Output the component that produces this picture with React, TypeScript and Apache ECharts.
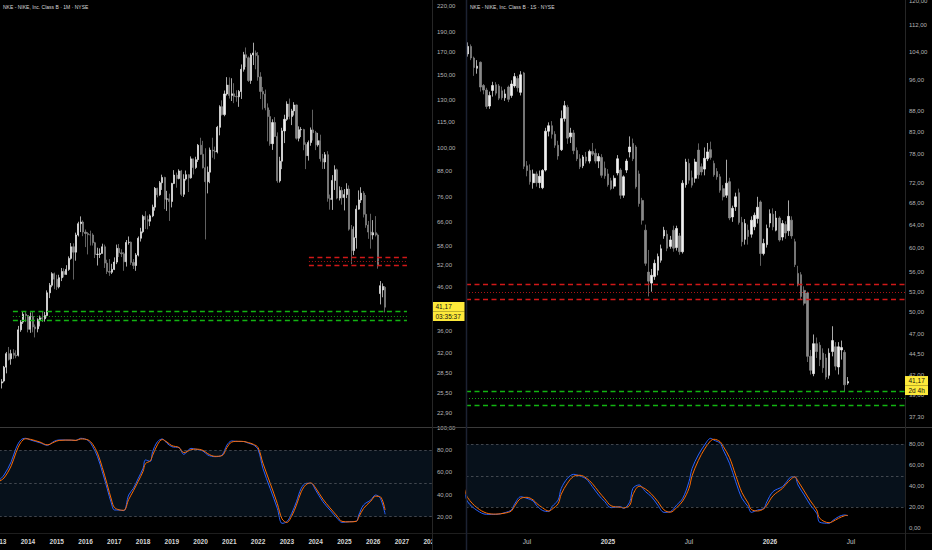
import React, { useEffect, useRef } from "react";
import * as echarts from "echarts";

// ---------------- texts ----------------
const leftTitle = "NKE - NIKE, Inc. Class B · 1M · NYSE";
const rightTitle = "NKE - NIKE, Inc. Class B · 1S · NYSE";
const lastPrice = 41.17;
const leftCountdown = "03:35:37";
const rightCountdown = "2d 4h";

// ---------------- monthly candles (from Jan 2013): [open, high, low, close] ----------------
const monthlyOHLC: number[][] = [
  [25.9, 27.9, 25.7, 27.0], [27.0, 27.6, 26.2, 27.2], [27.3, 29.7, 27.1, 29.5], [29.5, 32.1, 28.5, 31.8],
  [31.8, 33.0, 30.6, 30.8], [30.9, 32.5, 29.9, 31.8], [31.9, 32.6, 30.9, 31.5], [31.5, 32.4, 31.0, 31.4],
  [31.5, 37.1, 31.3, 36.3], [36.3, 38.3, 35.9, 37.9], [37.9, 40.3, 37.5, 39.6], [39.6, 40.3, 37.9, 39.3],
  [39.3, 39.4, 35.8, 36.4], [36.4, 40.0, 35.7, 39.1], [39.1, 40.3, 35.8, 36.9], [36.9, 37.4, 34.8, 36.5],
  [36.5, 38.7, 35.8, 38.4], [38.4, 39.3, 37.0, 38.8], [38.8, 40.1, 37.9, 38.6], [38.6, 40.1, 38.0, 39.3],
  [39.3, 45.2, 38.9, 44.6], [44.6, 47.1, 43.3, 46.5], [46.5, 50.0, 46.0, 49.6], [49.6, 49.9, 45.5, 48.1],
  [48.1, 49.3, 45.3, 46.1], [46.1, 49.3, 45.7, 48.5], [48.5, 51.2, 47.6, 50.2], [50.2, 51.1, 48.6, 49.4],
  [49.4, 52.0, 49.3, 50.8], [50.8, 54.6, 50.4, 54.0], [54.0, 58.8, 53.6, 57.6], [57.6, 58.7, 48.0, 55.9],
  [55.9, 62.3, 53.3, 61.5], [61.5, 66.2, 61.0, 65.5], [65.5, 68.2, 62.5, 66.1], [66.1, 66.7, 61.1, 62.5],
  [62.5, 63.4, 57.5, 62.0], [62.0, 62.5, 55.2, 61.6], [61.6, 63.0, 58.0, 61.5], [61.5, 62.1, 58.0, 58.9],
  [58.9, 59.2, 54.1, 55.2], [55.2, 57.3, 51.9, 55.25], [55.2, 57.1, 54.1, 55.5], [55.5, 58.6, 55.5, 57.6],
  [57.6, 58.3, 51.2, 52.6], [52.6, 53.6, 49.5, 50.2], [50.2, 53.8, 49.0, 50.0], [50.0, 52.4, 49.5, 50.8],
  [50.8, 54.3, 50.6, 52.9], [52.9, 58.3, 52.3, 57.1], [57.1, 58.5, 54.4, 55.7], [55.7, 56.8, 54.4, 55.4],
  [55.4, 55.9, 50.4, 53.0], [53.0, 59.8, 51.6, 59.0], [59.0, 61.0, 58.3, 59.1], [59.1, 59.3, 52.1, 52.8],
  [52.8, 53.8, 50.9, 51.9], [51.9, 55.6, 50.4, 55.0], [55.0, 61.0, 54.6, 60.4], [60.4, 64.0, 59.3, 62.6],
  [62.6, 68.8, 62.1, 68.2], [68.2, 70.2, 63.6, 67.0], [67.0, 68.5, 63.5, 66.4], [66.4, 69.0, 64.6, 68.4],
  [68.4, 72.8, 67.9, 71.8], [71.8, 80.3, 70.4, 79.7], [79.7, 80.0, 75.8, 76.9], [76.9, 83.0, 76.5, 82.2],
  [82.2, 86.0, 79.0, 84.7], [84.7, 85.0, 71.0, 75.0], [75.0, 78.6, 70.3, 75.2], [75.2, 77.4, 66.5, 74.1],
  [74.1, 82.2, 71.7, 81.9], [81.9, 88.2, 81.6, 85.8], [85.8, 87.0, 80.0, 84.2], [84.2, 88.6, 83.8, 87.8],
  [87.8, 88.3, 76.4, 77.1], [77.1, 86.2, 76.0, 83.9], [83.9, 88.0, 83.2, 86.0], [86.0, 86.2, 78.1, 84.5],
  [84.5, 95.2, 84.1, 93.9], [93.9, 94.0, 86.1, 89.5], [89.5, 95.0, 88.8, 93.5], [93.5, 102.0, 92.3, 101.3],
  [101.3, 105.6, 96.0, 96.3], [96.3, 103.8, 89.0, 89.4], [89.4, 99.6, 60.0, 82.7], [82.7, 90.0, 77.5, 87.2],
  [87.2, 100.0, 82.0, 98.6], [98.6, 105.6, 94.5, 98.1], [98.1, 100.5, 93.7, 97.6], [97.6, 112.8, 96.8, 111.9],
  [111.9, 126.5, 107.0, 125.5], [125.5, 130.0, 119.5, 120.1], [120.1, 137.3, 119.0, 134.7], [134.7, 147.9, 133.5, 141.5],
  [141.5, 147.7, 131.3, 133.6], [133.6, 147.0, 129.5, 134.8], [134.8, 143.0, 128.0, 132.9], [132.9, 137.5, 129.0, 132.6],
  [132.6, 137.7, 125.4, 136.5], [136.5, 158.7, 131.0, 154.5], [154.5, 170.2, 152.5, 167.5], [167.5, 174.4, 156.5, 164.7],
  [164.7, 166.0, 144.0, 145.2], [145.2, 168.9, 142.5, 167.3], [167.3, 179.1, 158.2, 169.2], [169.2, 171.5, 154.5, 166.7],
  [166.7, 170.1, 145.0, 148.1], [148.1, 152.0, 131.0, 136.6], [136.6, 140.0, 123.5, 134.6], [134.6, 138.0, 123.0, 124.7],
  [124.7, 127.8, 103.5, 118.8], [118.8, 123.3, 101.0, 102.2], [102.2, 117.0, 98.7, 114.9], [114.9, 118.4, 106.0, 106.4],
  [106.4, 108.8, 82.2, 83.1], [83.1, 95.0, 82.3, 92.7], [92.7, 111.6, 88.7, 109.7], [109.7, 120.0, 102.5, 117.0],
  [117.0, 129.3, 116.0, 127.3], [127.3, 131.3, 117.0, 118.8], [118.8, 124.0, 113.3, 122.6], [122.6, 128.7, 119.5, 126.7],
  [126.7, 127.0, 104.5, 105.3], [105.3, 112.5, 103.5, 110.4], [110.4, 112.0, 106.0, 110.5], [110.5, 111.0, 98.5, 101.7],
  [101.7, 102.9, 88.7, 95.6], [95.6, 104.0, 93.0, 102.8], [102.8, 111.8, 101.0, 110.3], [110.3, 123.4, 104.0, 108.6],
  [108.6, 109.7, 98.6, 101.5], [101.5, 108.5, 100.5, 103.9], [103.9, 107.4, 92.5, 94.0], [94.0, 96.5, 88.8, 92.3],
  [92.3, 97.5, 88.8, 96.1], [96.1, 98.0, 74.0, 75.4], [75.4, 77.0, 70.8, 74.9], [74.9, 85.8, 70.7, 83.3],
  [83.3, 90.6, 79.0, 88.4], [88.4, 89.0, 75.0, 75.5], [75.5, 80.6, 74.5, 78.8], [78.8, 80.3, 72.8, 75.7],
  [75.7, 79.4, 70.5, 77.0], [77.0, 82.0, 75.5, 79.4], [79.4, 81.0, 63.0, 63.5], [63.5, 65.0, 52.3, 56.4],
  [56.4, 64.5, 55.0, 60.6], [60.6, 72.5, 57.0, 71.0], [71.0, 78.8, 70.8, 74.7], [74.7, 80.2, 73.5, 77.6],
  [77.6, 78.5, 67.8, 69.0], [69.0, 76.8, 64.0, 65.0], [65.0, 66.5, 60.2, 62.5], [62.5, 69.2, 57.0, 61.5],
  [61.5, 66.8, 60.0, 62.3], [62.3, 68.3, 61.0, 61.5], [61.5, 62.0, 51.0, 51.8], [44.4, 47.6, 41.8, 46.4],
  [45.3, 47.0, 43.5, 46.2], [46.0, 46.3, 40.0, 41.17],
];

// ---------------- weekly candles (from week of 19 Feb 2024): [open, high, low, close] ----------------
const weeklyOHLC: number[][] = [
  [103.4, 106.8, 102.6, 105.6], [105.6, 106.2, 101.6, 102.2], [102.2, 102.6, 97.2, 99.5], [99.3, 101.6, 97.8, 99.9],
  [101.0, 101.2, 93.0, 94.2], [94.6, 95.0, 92.3, 93.4], [93.4, 94.0, 88.6, 89.2], [89.3, 93.0, 88.6, 92.0],
  [93.3, 95.6, 91.7, 94.6], [94.8, 95.5, 92.0, 92.6], [94.5, 95.0, 90.8, 91.3], [93.2, 94.3, 90.9, 91.4],
  [91.4, 93.6, 90.6, 92.4], [94.2, 94.6, 90.3, 91.0], [92.0, 96.0, 91.4, 95.0], [94.5, 98.0, 94.0, 97.0],
  [96.5, 97.2, 93.0, 94.0], [92.8, 98.5, 92.0, 97.5], [98.0, 98.3, 74.8, 75.4], [75.5, 76.5, 73.3, 74.5],
  [74.5, 75.8, 71.6, 72.2], [72.0, 74.7, 70.8, 73.8], [73.8, 74.3, 71.2, 72.0], [72.0, 74.5, 70.9, 73.3],
  [71.0, 74.8, 70.7, 74.5], [74.6, 84.0, 74.3, 83.2], [83.2, 85.3, 82.0, 84.5], [84.5, 85.6, 81.5, 82.5],
  [82.5, 83.2, 79.4, 80.0], [80.0, 81.0, 76.8, 77.6], [79.0, 88.2, 78.7, 86.2], [86.2, 90.6, 85.5, 89.4],
  [89.0, 89.6, 80.3, 81.6], [81.9, 84.0, 80.5, 82.8], [82.8, 83.5, 78.0, 78.8], [78.8, 79.5, 76.5, 77.0],
  [77.0, 78.0, 74.8, 75.3], [75.5, 77.8, 75.0, 77.4], [77.4, 78.5, 76.0, 76.5], [76.5, 79.0, 76.0, 78.6],
  [78.6, 80.5, 77.6, 78.0], [78.2, 79.2, 76.0, 76.5], [76.5, 78.2, 75.0, 77.5], [77.3, 78.0, 73.0, 73.5],
  [75.0, 76.4, 72.8, 73.4], [73.8, 74.8, 71.2, 71.6], [72.4, 73.0, 70.5, 70.8], [71.3, 73.5, 70.8, 72.9],
  [74.0, 77.8, 73.5, 77.0], [74.6, 75.0, 68.8, 69.5], [69.5, 73.5, 69.0, 73.2], [74.6, 77.0, 74.0, 76.5],
  [78.5, 82.0, 77.3, 79.6], [80.4, 81.5, 76.5, 77.0], [79.6, 80.0, 70.8, 71.2], [73.8, 74.5, 67.3, 67.9],
  [68.5, 69.0, 64.0, 64.8], [63.0, 64.0, 57.0, 57.4], [56.0, 59.6, 52.3, 54.6], [54.3, 56.5, 53.0, 55.5],
  [55.3, 58.0, 54.8, 57.4], [56.3, 59.0, 55.5, 58.5], [57.9, 60.5, 57.5, 59.8], [62.0, 63.6, 61.5, 63.0],
  [62.3, 63.0, 59.4, 59.9], [60.2, 62.0, 59.8, 61.3], [63.0, 63.8, 59.3, 59.9], [60.0, 63.8, 59.5, 63.3],
  [62.0, 62.5, 58.8, 59.3], [59.3, 72.5, 59.0, 71.9], [71.6, 77.0, 71.0, 76.3], [76.0, 77.0, 71.8, 72.5],
  [73.0, 74.5, 71.0, 71.5], [72.9, 77.0, 72.0, 76.3], [78.9, 80.4, 72.8, 73.6], [75.3, 76.0, 73.5, 74.2],
  [74.8, 79.5, 73.5, 77.1], [77.0, 80.5, 76.5, 78.5], [79.0, 80.8, 76.8, 77.3], [76.0, 76.6, 73.2, 73.6],
  [74.3, 75.0, 72.6, 73.2], [73.2, 73.8, 70.0, 70.5], [70.8, 71.5, 68.5, 69.2], [69.5, 76.8, 69.0, 71.9],
  [72.2, 73.0, 64.8, 65.2], [65.4, 67.5, 64.5, 67.0], [67.3, 70.0, 66.5, 69.2], [70.0, 70.8, 64.0, 64.4],
  [64.4, 65.4, 60.2, 61.0], [61.4, 65.0, 60.5, 64.2], [63.0, 64.0, 60.5, 61.9], [62.3, 65.5, 61.7, 64.8],
  [63.6, 66.2, 63.0, 65.7], [65.1, 69.2, 64.2, 67.2], [68.2, 68.5, 57.0, 59.0], [59.0, 61.5, 58.7, 60.7],
  [60.5, 64.0, 60.0, 63.3], [64.3, 66.8, 63.5, 66.0], [65.9, 67.0, 63.0, 63.6], [63.0, 66.5, 62.8, 65.2],
  [65.2, 65.5, 61.0, 61.3], [61.8, 64.8, 61.2, 64.2], [64.0, 64.6, 61.5, 62.5], [62.9, 68.5, 62.0, 65.5],
  [64.8, 65.5, 61.5, 62.0], [61.0, 61.5, 56.8, 57.2], [55.8, 57.0, 53.8, 54.0], [55.6, 56.0, 51.8, 52.3],
  [53.2, 53.8, 51.0, 51.3], [52.8, 53.0, 43.5, 44.2], [44.2, 45.0, 42.0, 42.5], [42.1, 47.0, 41.8, 45.8],
  [45.8, 46.6, 44.0, 44.8], [45.6, 46.0, 43.0, 43.8], [44.6, 45.2, 42.2, 42.8], [44.0, 44.5, 41.4, 41.7],
  [41.9, 45.2, 41.5, 44.6], [44.8, 48.1, 44.2, 46.2], [45.4, 46.0, 42.5, 43.0], [42.9, 46.0, 42.0, 45.4],
  [45.0, 46.2, 43.8, 45.3], [44.7, 45.0, 40.0, 40.8], [41.0, 41.7, 40.8, 41.17],
];

// ---------------- axes ticks ----------------
const leftYearTicks = [0, 12, 24, 36, 48, 60, 72, 84, 96, 108, 120, 132, 144, 156, 168, 180];
const leftYearLabels = ["2013", "2014", "2015", "2016", "2017", "2018", "2019", "2020", "2021", "2022", "2023", "2024", "2025", "2026", "2027", "2028"];
const rightTimeTicks = [19, 45, 71, 97, 123];
const rightTimeLabels = ["Jul", "2025", "Jul", "2026", "Jul"];
const leftPriceTicks = [22.9, 25.5, 28.5, 32, 36, 46, 52, 58, 66, 76, 88, 100, 115, 130, 150, 170, 190, 220];
const rightPriceTicks = [37.3, 39.6, 42, 44.5, 47, 50, 53, 56, 60, 64, 68, 72, 78, 83, 88, 96, 104, 112, 120];
const leftStochTicks = [20, 40, 60, 80, 100];
const rightStochTicks = [0, 20, 40, 60, 80];
const stochBandLines = [80, 50, 20];
const stochBand = [20, 80];

// ---------------- drawn levels ----------------
const redLevels = [54.25, 53.1, 52.0];
const greenLevels = [40.2, 39.25, 38.35];
const levelKinds = ["dashed", "dotted", "dashed"];
const leftRedSpan = [129.2, 170.1];
const leftGreenSpan = [5.7, 170.1];

// ---------------- stochastic (left: month index, right: week index) ----------------
const leftStochX = [0, 2, 5, 7, 9, 11, 13, 17, 20, 23, 25, 30, 32, 34, 37, 39, 41, 43, 45, 47, 48, 50, 52, 54, 56, 58, 60, 61, 63, 64, 66, 68, 70, 72, 75, 77, 80, 82, 85, 87, 90, 93, 95, 97, 100, 102, 104, 106, 108, 110, 113, 116, 118, 120, 122, 124, 126, 128, 130, 132, 135, 138, 141, 143, 146, 149, 150, 152, 155, 157, 159, 161];
const leftStochK = [53, 57.7, 69.7, 81.9, 89.4, 90.9, 89.4, 86.9, 84.6, 88.3, 89.4, 89.2, 89, 90.9, 89, 83.3, 74.3, 60.7, 45.7, 30.6, 26.1, 26, 25.5, 39.6, 45.7, 54.7, 63.8, 71.3, 70, 78.8, 87.8, 90.3, 86.4, 83.3, 82.4, 76.4, 81.8, 81, 79.4, 75.8, 74.3, 75.8, 84.8, 88.5, 88, 88, 86.4, 85, 80.7, 63.8, 45.7, 27.6, 14, 15.5, 23, 33.6, 45.7, 50.2, 50.2, 44.1, 33.6, 26, 18.5, 14.9, 15.5, 16, 21.5, 30.6, 35.1, 39.6, 36.6, 22.2];
const leftStochD = [52, 55, 66, 78, 87, 90.5, 90, 87.5, 85, 87.5, 89, 89.3, 89, 90.3, 89.5, 85.5, 77.5, 64.5, 49.5, 34, 28.5, 26.2, 25.8, 35.5, 43.5, 52, 61, 68, 70.5, 75.5, 85, 89.8, 87.5, 84.3, 82.6, 78, 80.5, 81.2, 80, 77, 74.6, 75.3, 82.5, 87.5, 88.2, 88, 87, 85.5, 82.5, 68.5, 50.5, 32, 18, 14.8, 20.5, 30.5, 42.5, 49, 50.5, 46, 36, 28, 20.5, 15.8, 15.3, 15.8, 19.5, 27.5, 34, 38.5, 38, 26];
const rightStochX = [-1, 0, 3, 6, 9, 12, 14, 15, 17, 19, 21, 22, 24, 26, 27, 29, 30, 32, 34, 36, 38, 40, 42, 44, 46, 49, 50, 52, 53, 55, 57, 59, 61, 63, 65, 67, 69, 71, 72, 74, 76, 78, 79, 81, 82, 84, 86, 88, 90, 91, 93, 95, 96, 98, 101, 102, 104, 105, 106, 108, 110, 112, 113, 116, 117, 119, 121, 122];
const rightStochK = [34, 25, 17, 13.3, 13.3, 15, 17.5, 23, 30, 28.5, 26, 22, 17, 16, 20.6, 27, 38, 47.6, 51.4, 49.8, 47, 39.6, 31.7, 25.3, 19.6, 20.6, 19, 25.3, 38, 41.3, 35, 30, 22, 15.2, 15.8, 22, 28.6, 44.4, 57, 69.8, 79.3, 85.7, 84, 81, 74.6, 62, 44.4, 28.6, 20.6, 15.2, 17.4, 19, 25.3, 35, 39.6, 43, 49, 49, 41.3, 31.7, 22, 14.3, 5.7, 4.8, 7, 11, 12.7, 12];
const rightStochD = [37, 29, 19.5, 14.5, 13.5, 14.5, 16.5, 21, 28.5, 29.5, 27, 24, 19.5, 16.5, 18, 23.5, 32.5, 43, 49.5, 50.5, 48, 42.5, 35, 28, 21.5, 20, 19.5, 22, 32, 40, 37.5, 32.5, 25.5, 17.5, 15.3, 19.5, 26, 38, 50, 64.5, 75.5, 83.5, 84.8, 82.5, 78, 67.5, 50.5, 34, 24, 18, 16.5, 18.5, 22, 31, 38, 41.5, 47.5, 49, 45, 35.5, 26, 17.5, 9.5, 5.3, 6.2, 9.5, 12, 12.3];

// ---------------- styling ----------------
const FONT = "Liberation Sans, Arial, sans-serif";
const UP = "#f2f2f2";
const DOWN = "#8a8a8a";
const RED = "#d01818";
const RED_DOT = "#a81414";
const GREEN = "#12b412";
const GREEN_DOT = "#10a010";
const YELLOW = "#fde93a";
const K_COLOR = "#2962ff";
const D_COLOR = "#ff6d00";
const BAND = "#07111b";
const AXIS_TXT = "#b4b4b4";

const fmt = (v: number) => v.toFixed(2).replace(".", ",");
const ln = Math.log;

function levelStyle(kind: string, dashColor: string, dotColor: string) {
  return kind === "dashed"
    ? { type: [5, 3.5], color: dashColor, width: 1.4, opacity: 1 }
    : { type: [1, 2], color: dotColor, width: 1, opacity: 1 };
}

function priceLabel(countdown: string, width: number) {
  const tok = {
    backgroundColor: YELLOW,
    color: "#111",
    fontSize: 6.5,
    fontFamily: FONT,
    width,
    height: 9.5,
    lineHeight: 9.5,
    padding: [0, 0, 0, 3.5],
    align: "left",
  };
  return {
    yAxis: ln(lastPrice),
    lineStyle: { color: "rgba(0,0,0,0)", width: 0.1, opacity: 1, type: "solid" },
    label: {
      show: true,
      position: "end",
      distance: 0,
      opacity: 1,
      color: "#111",
      padding: [9.5, 0, 0, 0],
      formatter: "{a|" + fmt(lastPrice) + "}\n{b|" + countdown + "}",
      rich: { a: tok, b: tok },
    },
  };
}

function priceAxis(gridIndex: number, lo: number, hi: number, ticks: number[], margin: number) {
  return {
    gridIndex,
    type: "value",
    position: "right",
    min: ln(lo),
    max: ln(hi),
    splitLine: { show: false },
    axisLine: { show: false },
    axisTick: { show: false },
    axisLabel: {
      customValues: ticks.map((t) => ln(t)),
      formatter: (v: number) => fmt(Math.exp(v)),
      color: AXIS_TXT,
      fontSize: 6,
      fontFamily: FONT,
      margin,
    },
  };
}

function stochAxis(gridIndex: number, lo: number, hi: number, ticks: number[], margin: number) {
  return {
    gridIndex,
    type: "value",
    position: "right",
    min: lo,
    max: hi,
    splitLine: { show: false },
    axisLine: { show: false },
    axisTick: { show: false },
    axisLabel: {
      customValues: ticks,
      formatter: (v: number) => fmt(v),
      color: AXIS_TXT,
      fontSize: 6,
      fontFamily: FONT,
      margin,
    },
  };
}

function timeAxis(gridIndex: number, lo: number, hi: number, show: boolean, ticks: number[], labels: string[]) {
  return {
    gridIndex,
    type: "value",
    min: lo,
    max: hi,
    show,
    splitLine: { show: false },
    axisLine: { show: false },
    axisTick: { show: false },
    axisLabel: {
      show,
      customValues: ticks,
      alignMinLabel: "center",
      alignMaxLabel: "center",
      formatter: (v: number) => {
        let best = 0;
        ticks.forEach((t, i) => {
          if (Math.abs(t - v) < Math.abs(ticks[best] - v)) best = i;
        });
        const t = labels[best];
        return /^\d/.test(t) ? "{b|" + t + "}" : "{n|" + t + "}";
      },
      margin: 5,
      rich: {
        b: { fontSize: 6.5, fontWeight: "bold", color: "#d6d6d6", fontFamily: FONT },
        n: { fontSize: 6.5, color: "#c4c4c4", fontFamily: FONT },
      },
    },
  };
}

function stochSeries(x: number, y: number, xs: number[], k: number[], d: number[]) {
  return [
    {
      type: "line",
      xAxisIndex: x,
      yAxisIndex: y,
      data: xs.map((m, i) => [m, k[i]]),
      smooth: 0.35,
      symbol: "none",
      lineStyle: { color: K_COLOR, width: 1 },
      z: 3,
      markArea: {
        silent: true,
        itemStyle: { color: BAND },
        data: [[{ yAxis: stochBand[0] }, { yAxis: stochBand[1] }]],
      },
      markLine: {
        silent: true,
        symbol: ["none", "none"],
        label: { show: false },
        lineStyle: { type: [2.5, 2.5], color: "#5a5e66", width: 0.7 },
        data: stochBandLines.map((v) => ({ yAxis: v })),
      },
    },
    {
      type: "line",
      xAxisIndex: x,
      yAxisIndex: y,
      data: xs.map((m, i) => [m, d[i]]),
      smooth: 0.35,
      symbol: "none",
      lineStyle: { color: D_COLOR, width: 1 },
      z: 4,
    },
  ];
}

export default function App() {
  const ref = useRef<HTMLDivElement>(null);

  useEffect(() => {
    document.body.style.margin = "0";
    document.body.style.background = "#000";
    if (!ref.current) return;
    const chart = echarts.init(ref.current, undefined, { renderer: "svg" });

    const leftCandles = monthlyOHLC.map(([o, h, l, c], m) => [m, ln(o), ln(c), ln(l), ln(h)]);
    const rightCandles = weeklyOHLC.map(([o, h, l, c], w) => [w, ln(o), ln(c), ln(l), ln(h)]);

    const leftLevels: any[] = [];
    redLevels.forEach((v, i) => {
      leftLevels.push([
        { coord: [leftRedSpan[0], ln(v)], lineStyle: levelStyle(levelKinds[i], RED, RED_DOT) },
        { coord: [leftRedSpan[1], ln(v)] },
      ]);
    });
    greenLevels.forEach((v, i) => {
      leftLevels.push([
        { coord: [leftGreenSpan[0], ln(v)], lineStyle: levelStyle(levelKinds[i], GREEN, GREEN_DOT) },
        { coord: [leftGreenSpan[1], ln(v)] },
      ]);
    });

    const rightLevels: any[] = [];
    redLevels.forEach((v, i) => rightLevels.push({ yAxis: ln(v), lineStyle: levelStyle(levelKinds[i], RED, RED_DOT) }));
    greenLevels.forEach((v, i) => rightLevels.push({ yAxis: ln(v), lineStyle: levelStyle(levelKinds[i], GREEN, GREEN_DOT) }));

    const candleStyle = {
      color: UP,
      color0: DOWN,
      borderColor: UP,
      borderColor0: DOWN,
      borderWidth: 0.7,
    };

    // invisible helper series carrying the last-price tag on the price axis
    const tagSeries = (xi: number, yi: number, countdown: string, width: number) => ({
      type: "line",
      xAxisIndex: xi,
      yAxisIndex: yi,
      data: [],
      clip: false,
      z: 20,
      markLine: {
        silent: true,
        symbol: ["none", "none"],
        data: [priceLabel(countdown, width)],
      },
    });

    const option: any = {
      animation: false,
      backgroundColor: "#000",
      grid: [
        { left: -0.77, top: 0, width: 432.77, height: 427, outerBoundsMode: "none" },
        { left: -0.77, top: 427, width: 432.77, height: 106, outerBoundsMode: "none" },
        { left: 466, top: 0, width: 439, height: 427, outerBoundsMode: "none" },
        { left: 466, top: 427, width: 439, height: 106, outerBoundsMode: "none" },
      ],
      xAxis: [
        timeAxis(0, 0, 180.55, false, leftYearTicks, leftYearLabels),
        timeAxis(1, 0, 180.55, true, leftYearTicks, leftYearLabels),
        timeAxis(2, -0.58, 140.35, false, rightTimeTicks, rightTimeLabels),
        timeAxis(3, -0.58, 140.35, true, rightTimeTicks, rightTimeLabels),
      ],
      yAxis: [
        priceAxis(0, 21.15, 227.1, leftPriceTicks, 5),
        stochAxis(1, 5.25, 101.13, leftStochTicks, 5),
        priceAxis(2, 36.24, 120.3, rightPriceTicks, 4),
        stochAxis(3, -4.48, 96.48, rightStochTicks, 4),
      ],
      series: [
        {
          type: "candlestick",
          xAxisIndex: 0,
          yAxisIndex: 0,
          data: leftCandles,
          barWidth: 1.6,
          clip: false,
          itemStyle: candleStyle,
          markLine: {
            silent: true,
            symbol: ["none", "none"],
            label: { show: false },
            data: leftLevels,
          },
        },
        ...stochSeries(1, 1, leftStochX, leftStochK, leftStochD),
        {
          type: "candlestick",
          xAxisIndex: 2,
          yAxisIndex: 2,
          data: rightCandles,
          barWidth: 2.1,
          clip: false,
          itemStyle: candleStyle,
          markLine: {
            silent: true,
            symbol: ["none", "none"],
            label: { show: false },
            data: rightLevels,
          },
        },
        ...stochSeries(3, 3, rightStochX, rightStochK, rightStochD),
        tagSeries(0, 0, leftCountdown, 29),
        tagSeries(2, 2, rightCountdown, 19.5),
      ],
      graphic: [
        { type: "rect", shape: { x: 432.5, y: 534, width: 33.5, height: 16 }, style: { fill: "#000" }, z: 50 },
        { type: "line", shape: { x1: 0, y1: 427.5, x2: 932, y2: 427.5 }, style: { stroke: "#3a3a3a", lineWidth: 1 }, z: 1 },
        { type: "line", shape: { x1: 0, y1: 533.5, x2: 932, y2: 533.5 }, style: { stroke: "#1e1e1e", lineWidth: 1 }, z: 1 },
        { type: "line", shape: { x1: 432.5, y1: 0, x2: 432.5, y2: 550 }, style: { stroke: "#262626", lineWidth: 1 }, z: 51 },
        { type: "line", shape: { x1: 905.5, y1: 0, x2: 905.5, y2: 550 }, style: { stroke: "#262626", lineWidth: 1 }, z: 1 },
        { type: "line", shape: { x1: 466.5, y1: 0, x2: 466.5, y2: 550 }, style: { stroke: "#1c2232", lineWidth: 1.5 }, z: 51 },
        {
          type: "text",
          x: 3,
          y: 7,
          style: { text: leftTitle, fill: "#dadada", fontSize: 5, fontFamily: FONT, verticalAlign: "middle" },
          z: 52,
        },
        {
          type: "text",
          x: 470,
          y: 7,
          style: { text: rightTitle, fill: "#dadada", fontSize: 5, fontFamily: FONT, verticalAlign: "middle" },
          z: 52,
        },
      ],
    };

    chart.setOption(option);
    return () => chart.dispose();
  }, []);

  return <div ref={ref} style={{ width: 932, height: 550, background: "#000" }} />;
}
